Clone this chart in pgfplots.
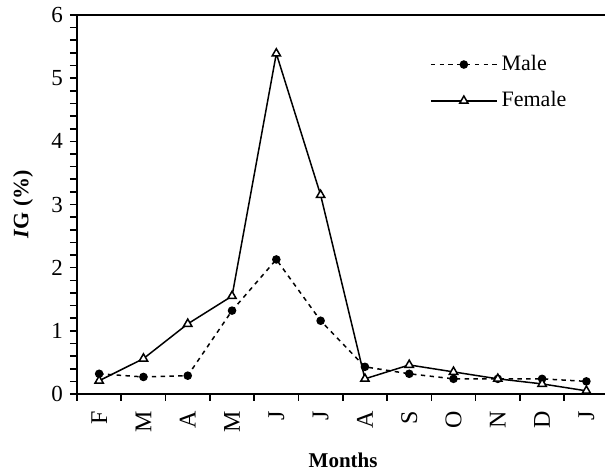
\documentclass[border=0pt]{standalone}
\usepackage{fontspec}
\setmainfont{Liberation Serif}
\usepackage{pgfplots}
\pgfplotsset{compat=1.18}

\begin{document}
\begin{tikzpicture}
\begin{axis}[
  name=ax,
  width=264pt, height=189.5pt, scale only axis,
  xmin=-0.5, xmax=11.42, ymin=0, ymax=6,
  axis x line=box, axis y line=left,
  axis line style={line width=1pt, -},
  x axis line style={-}, y axis line style={-},
  xtick={0,...,11},
  xticklabels={F,M,A,M,J,J,A,S,O,N,D,J},
  major x tick style={draw=none},
  minor xtick={-0.5,0.5,...,10.5},
  xtick pos=bottom,
  ytick={0,1,...,6}, minor y tick num=4,
  ytick pos=left,
  tick align=outside,
  major tick length=3.5pt, minor tick length=3.5pt,
  every tick/.style={black, line width=0.8pt},
  minor x tick style={line width=0.8pt},
  xticklabel style={rotate=90, anchor=east, inner sep=0pt,
    font=\fontsize{12}{14}\selectfont},
  xticklabel shift=5pt,
  yticklabel style={font=\fontsize{11.5}{13}\selectfont},
  /pgf/number format/assume math mode=true,
  xlabel={\textbf{Months}},
  ylabel={\textbf{\textit{I}G (\%)}},
  every axis x label/.style={at={(rel axis cs:0.504,0)}, yshift=-33pt,
    anchor=center, font=\fontsize{10.5}{12}\selectfont},
  every axis y label/.style={at={(rel axis cs:0,0.5)}, xshift=-27pt,
    rotate=90, anchor=center, font=\fontsize{11}{13}\selectfont},
  legend style={draw=none, fill=none, at={(0.668,0.905)}, anchor=north west,
    font=\fontsize{11}{13}\selectfont, row sep=5pt, inner sep=0pt},
  legend cell align=left,
  legend image code/.code={
    \draw[#1, mark repeat=2, mark phase=2] plot coordinates {(0cm,0cm) (0.58cm,0cm) (1.16cm,0cm)};
  },
]
\addplot[black, line width=0.75pt, dash pattern=on 2.2pt off 2.2pt,
  mark=*, mark size=1.75pt, mark options={solid}]
  coordinates {
    (0,0.32) (1,0.27) (2,0.29) (3,1.32) (4,2.13) (5,1.16)
    (6,0.43) (7,0.32) (8,0.24) (9,0.24) (10,0.24) (11,0.20)
  };
\addlegendentry{Male}
\addplot[black, line width=0.75pt,
  mark=triangle*, mark size=2.4pt, mark options={solid, fill=white}]
  coordinates {
    (0,0.21) (1,0.56) (2,1.11) (3,1.55) (4,5.39) (5,3.15)
    (6,0.24) (7,0.46) (8,0.35) (9,0.24) (10,0.16) (11,0.05)
  };
\addlegendentry{Female}
\end{axis}
\pgfresetboundingbox
\path ([xshift=-38.5pt,yshift=-38.5pt]ax.south west) rectangle ([yshift=7.5pt]ax.north east);
\end{tikzpicture}
\end{document}
